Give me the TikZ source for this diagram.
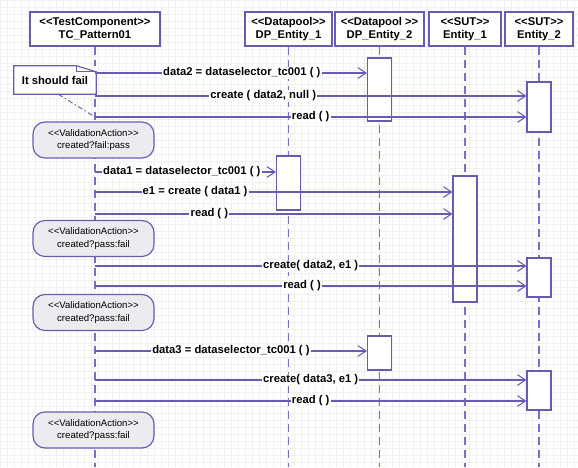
\documentclass[tikz,border=0pt]{standalone}
\usepackage{fontspec}
\setmainfont{Liberation Sans}
\usepackage{tikz}
\usetikzlibrary{arrows.meta}
\definecolor{umlline}{RGB}{104,92,176}
\definecolor{umldash}{RGB}{122,110,198}
\definecolor{vafill}{RGB}{236,236,240}
\newcommand{\stL}{<\kern0pt<}
\newcommand{\stR}{>\kern0pt>}

\begin{document}
\begin{tikzpicture}[x=0.3mm, y=-0.3mm,
    head/.style={rectangle, draw=umlline, line width=1pt, fill=white, minimum height=10.2mm, align=center, inner sep=1pt, font=\fontsize{9.6}{11.5}\selectfont\bfseries},
    act/.style={rectangle, draw=umlline, line width=1pt, fill=white, minimum width=7.2mm},
    valid/.style={rectangle, rounded corners=3.6mm, draw=umlline, line width=1pt, fill=vafill, minimum width=36.3mm, minimum height=10.8mm, align=center, font=\fontsize{8.2}{11}\selectfont},
    life/.style={draw=umldash, line width=1.1pt, dash pattern=on 2.4mm off 1.5mm},
    msg/.style={draw=umlline, line width=0.9pt, -{Straight Barb[length=2.4mm, width=3.2mm]}},
    lbl/.style={fill=white, inner sep=1pt, font=\fontsize{9.6}{11}\selectfont\bfseries, text=black}]

    % Background grid
    \useasboundingbox (0,0) rectangle (578,467);
    \fill[white] (0,0) rectangle (578,467);
    \draw[gray!12, line width=0.2pt, step=2.1mm] (0,0) grid (578,467);
    \coordinate (bot) at (0,467);

    % Lifeline heads
    \node[head, minimum width=39mm] (tc) at (95,29) {\stL TestComponent\stR\\TC\_Pattern01};
    \node[head, minimum width=26.1mm] (dp1) at (288.5,29) {\stL Datapool\stR\\DP\_Entity\_1};
    \node[head, minimum width=26.7mm] (dp2) at (379.5,29) {\stL Datapool \stR\\DP\_Entity\_2};
    \node[head, minimum width=21.6mm] (sut1) at (465,29) {\stL SUT\stR\\Entity\_1};
    \node[head, minimum width=20.4mm] (sut2) at (539,29) {\stL SUT\stR\\Entity\_2};

    % Lifelines
    \foreach \h in {tc,dp1,dp2,sut1,sut2}
        \draw[life] (\h.south) -- (\h.south |- bot);

    % Activations
    \node[act, minimum height=18.9mm] (dpa) at (379.5,89.5) {};
    \node[act, minimum height=15mm] (sta) at (539,107) {};
    \node[act, minimum height=16.2mm] (dpb) at (288.5,183) {};
    \node[act, minimum height=37.8mm] (sua) at (465,239) {};
    \node[act, minimum height=11.7mm] (stb) at (539,277.5) {};
    \node[act, minimum height=10.2mm] (dpc) at (379.5,353) {};
    \node[act, minimum height=11.7mm] (stc) at (539,390.5) {};

    % Validation actions
    \node[valid] (va1) at (93.5,140) {\stL ValidationAction\stR\\created?fail:pass};
    \node[valid] (va2) at (93.5,238.5) {\stL ValidationAction\stR\\created?pass:fail};
    \node[valid] (va3) at (93.5,312.5) {\stL ValidationAction\stR\\created?pass:fail};
    \node[valid] (va4) at (93.5,430) {\stL ValidationAction\stR\\created?pass:fail};

    % Note
    \node[fill=white, minimum width=24.6mm, minimum height=8.4mm, font=\fontsize{9.6}{11}\selectfont\bfseries] (note) at (55,80) {It should fail};
    \draw[umlline, line width=1pt] (note.south west) -- (note.north west) -- ([xshift=-6mm]note.north east)
        -- ([yshift=-1.8mm]note.north east) -- (note.south east) -- cycle;
    \draw[umlline, line width=0.6pt] ([xshift=-6mm]note.north east) -- ([xshift=-6mm,yshift=-1.8mm]note.north east)
        -- ([yshift=-1.8mm]note.north east);

    % Message starts
    \coordinate (s1) at (95,73);
    \coordinate (s2) at (95,96);
    \coordinate (s3) at (95,117);
    \coordinate (s4) at (95,172);
    \coordinate (s5) at (95,192);
    \coordinate (s6) at (95,214);
    \coordinate (s7) at (95,266);
    \coordinate (s8) at (95,286);
    \coordinate (s9) at (95,351);
    \coordinate (s10) at (95,380);
    \coordinate (s11) at (95,401);

    \draw[umlline, line width=0.8pt, dash pattern=on 1.5mm off 0.8mm on 0.4mm off 0.8mm] ([xshift=1mm]note.south) -- (s3);

    % Messages
    \draw[msg] (s1) -- (s1 -| dpa.west) node[lbl, pos=0.54] {data2 = dataselector\_tc001 ( )};
    \draw[msg] (s2) -- (s2 -| sta.west) node[lbl, pos=0.39] {create ( data2, null )};
    \draw[msg] (s3) -- (s3 -| sta.west) node[lbl, pos=0.5] {read ( )};
    \draw[msg] (s4) -- (s4 -| dpb.west) node[lbl, pos=0.48] {data1 = dataselector\_tc001 ( )};
    \draw[msg] (s5) -- (s5 -| sua.west) node[lbl, pos=0.28] {e1 = create ( data1 )};
    \draw[msg] (s6) -- (s6 -| sua.west) node[lbl, pos=0.32] {read ( )};
    \draw[msg] (s7) -- (s7 -| stb.west) node[lbl, pos=0.5] {create( data2, e1 )};
    \draw[msg] (s8) -- (s8 -| stb.west) node[lbl, pos=0.48] {read ( )};
    \draw[msg] (s9) -- (s9 -| dpc.west) node[lbl, pos=0.5] {data3 = dataselector\_tc001 ( )};
    \draw[msg] (s10) -- (s10 -| stc.west) node[lbl, pos=0.5] {create( data3, e1 )};
    \draw[msg] (s11) -- (s11 -| stc.west) node[lbl, pos=0.5] {read ( )};

\end{tikzpicture}
\end{document}
